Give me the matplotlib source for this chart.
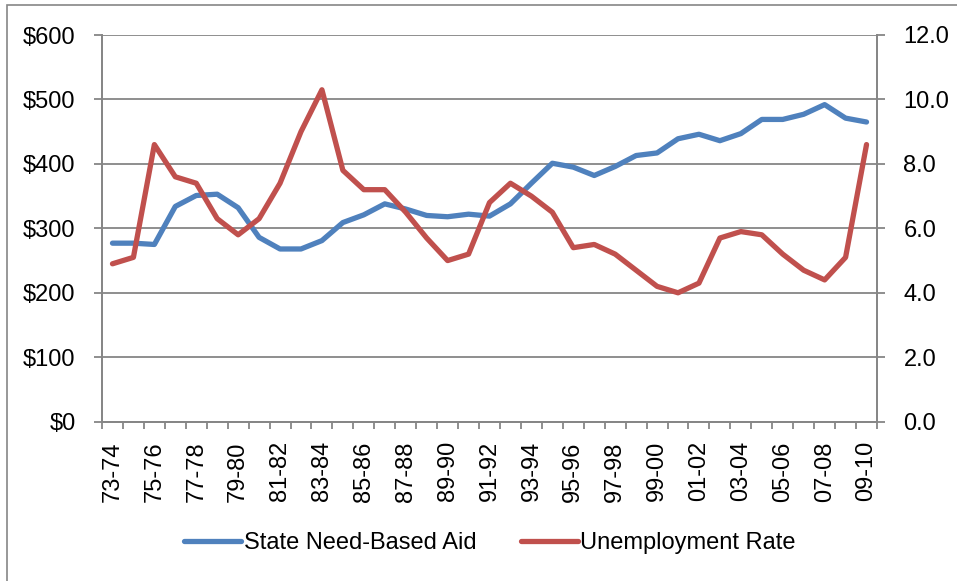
import numpy as np
import matplotlib.pyplot as plt
from matplotlib.patches import Rectangle

# years 73-74 .. 09-10
years = ['%02d-%02d' % (y % 100, (y + 1) % 100) for y in range(1973, 2010)]

aid = [277, 277, 275, 334, 351, 353, 332, 286, 268, 268, 281, 309, 321, 338, 330,
       320, 318, 322, 319, 338, 370, 401, 395, 382, 396, 413, 417, 439, 446, 436,
       447, 469, 469, 477, 492, 471, 465]
unemp = [4.9, 5.1, 8.6, 7.6, 7.4, 6.3, 5.8, 6.3, 7.4, 9.0, 10.3, 7.8, 7.2, 7.2, 6.5,
         5.7, 5.0, 5.2, 6.8, 7.4, 7.0, 6.5, 5.4, 5.5, 5.2, 4.7, 4.2, 4.0, 4.3, 5.7,
         5.9, 5.8, 5.2, 4.7, 4.4, 5.1, 8.6]

blue = '#4F81BD'
red = '#C0504D'
gray = '#868686'

plt.rcParams['font.family'] = ['Liberation Sans', 'DejaVu Sans']

fig = plt.figure(figsize=(9.57, 5.81), dpi=100)
ax = fig.add_axes([102 / 957, 1 - 421.7 / 581, (877 - 102) / 957, (421.7 - 35) / 581])
ax2 = ax.twinx()

x = np.arange(len(years))
l1, = ax.plot(x, aid, color=blue, lw=3.8, solid_capstyle='round', label='State Need-Based Aid', zorder=3)
l2, = ax2.plot(x, unemp, color=red, lw=3.8, solid_capstyle='round', label='Unemployment Rate', zorder=3)

ax.set_xlim(-0.5, len(years) - 0.5)
ax.set_ylim(0, 600)
ax2.set_ylim(0, 12)
ax.set_yticks(range(0, 601, 100))
ax.set_yticklabels(['$%d' % v for v in range(0, 601, 100)])
ax2.set_yticks(np.arange(0, 12.1, 2))
ax2.set_yticklabels(['%.1f' % v for v in np.arange(0, 12.1, 2)])

ax.set_xticks(x[::2])
ax.set_xticklabels(years[::2], rotation=90)
ax.set_xticks(np.arange(-0.5, len(years)), minor=True)
ax.tick_params(axis='x', which='major', length=0, pad=14, labelsize=17)
ax.tick_params(axis='x', which='minor', length=5, color=gray, width=1.3)
ax.tick_params(axis='y', length=6, color=gray, width=1.3, pad=13, labelsize=17)
ax2.tick_params(axis='y', length=6, color=gray, width=1.3, pad=13, labelsize=17)

ax.grid(axis='y', color=gray, lw=1.3)
ax.set_axisbelow(True)
for a in (ax, ax2):
    a.spines['top'].set_visible(False)
    for s in ('left', 'right', 'bottom'):
        a.spines[s].set_color(gray)
        a.spines[s].set_linewidth(1.3)

fig.legend([l1, l2], ['State Need-Based Aid', 'Unemployment Rate'], loc='center',
           bbox_to_anchor=(490 / 957, 1 - 543 / 581), ncol=2, frameon=False,
           fontsize=17, handlelength=2.4, handletextpad=0.1, columnspacing=1.9)

fig.patches.append(Rectangle((7 / 957, -0.01), 1.0, 1 - 5 / 581 + 0.01, transform=fig.transFigure,
                             fill=False, edgecolor=gray, lw=1.2))

fig.savefig('out.png', dpi=100)
